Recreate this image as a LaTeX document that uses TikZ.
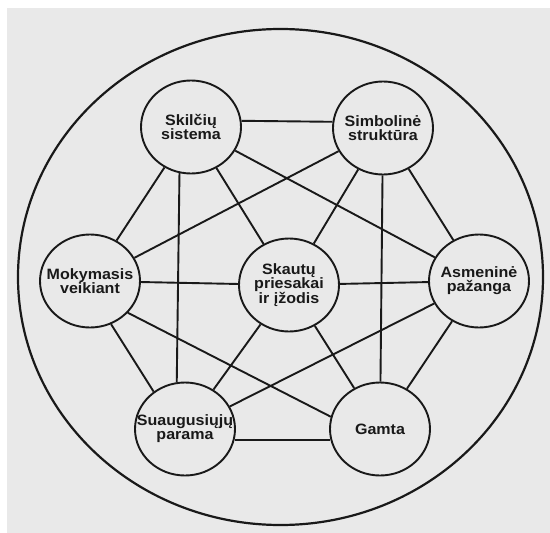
\documentclass[tikz,border=0pt]{standalone}
\usepackage{fontspec}
\setmainfont{Liberation Sans}
\usetikzlibrary{shapes.geometric}
\definecolor{paper}{RGB}{233,233,233}
\definecolor{ink}{RGB}{25,25,25}

\begin{document}
\begin{tikzpicture}[x=1pt,y=-1pt,line width=1.9pt,color=ink]
\tikzset{
    area/.style={ellipse,
                 draw,
                 minimum width = 100pt,
                 minimum height = 93pt,
                 inner sep = 0pt},
    areatext/.style={align = center,
                     font = \bfseries\fontsize{15}{14}\selectfont,
                     transform shape,
                     xscale = 1.07}
}
    \useasboundingbox (0,0) rectangle (550,533);
    \fill[paper] (7,8) rectangle (550,533);

    \draw[line width = 2.2pt] (280.5,277) ellipse [x radius = 262.5pt, y radius = 248pt];

    \node[area] (sk) at (191,127) {};
    \node[areatext] at (sk.center) {Skilčių\\sistema};

    \node[area] (sim) at (383,128) {};
    \node[areatext] at (sim.center) {Simbolinė\\struktūra};

    \node[area] (mok) at (90,281) {};
    \node[areatext] at (mok.center) {Mokymasis\\veikiant};

    \node[area] (sp) at (289,285) {};
    \node[areatext] at (sp.center) {Skautų\\priesakai\\ir įžodis};

    \node[area] (asm) at (479,281) {};
    \node[areatext] at (asm.center) {Asmeninė\\pažanga};

    \node[area] (sua) at (185,429) {};
    \node[areatext] at (sua.center) {Suaugusiųjų\\parama};

    \node[area] (gam) at (380,429) {};
    \node[areatext] at (gam.center) {Gamta};

    \path
    %outer ring
    (sk.7) edge (sim.173)
    (sk) edge (mok)
    (sim) edge (asm)
    (mok.-64) edge (sua.130)
    (asm) edge (gam)
    (sua.-12) edge (gam.192)
    %spokes to the middle
    (sk) edge (sp)
    (sim) edge (sp)
    (mok) edge (sp)
    (asm) edge (sp)
    (sua) edge (sp)
    (gam) edge (sp)
    %long chords
    (sk.-104) edge (sua.100)
    (sk) edge (asm)
    (sim) edge (mok)
    (sim) edge (gam)
    (mok.-40) edge (gam.166)
    (asm) edge (sua);

\end{tikzpicture}
\end{document}
